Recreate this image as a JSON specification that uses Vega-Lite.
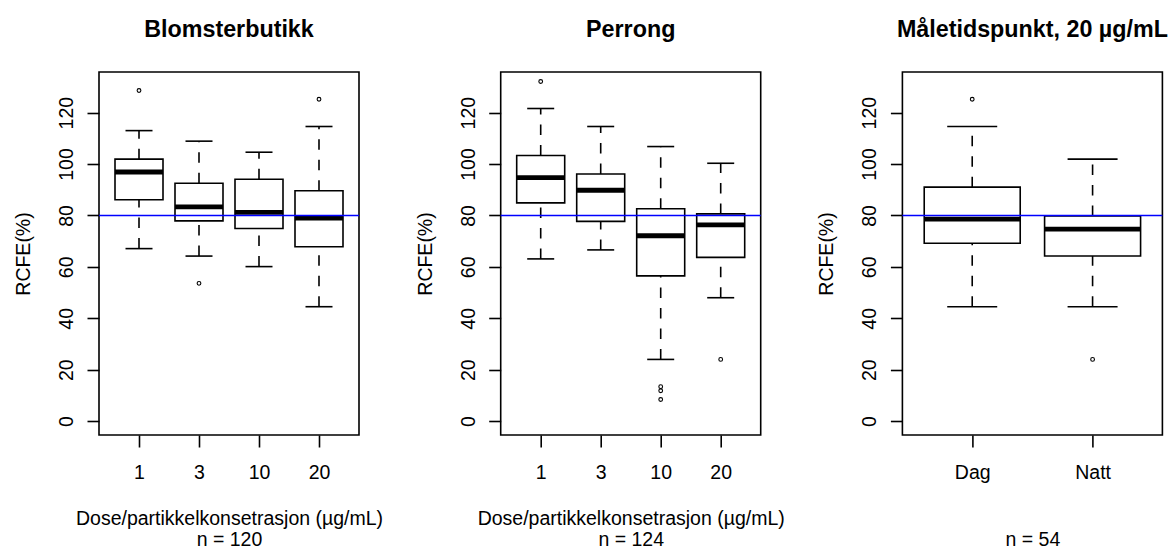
{
  "$schema": "https://vega.github.io/schema/vega-lite/v6.json",
  "background": "white",
  "padding": {"left": 12, "top": 17, "right": 4, "bottom": 0},
  "bounds": "flush",
  "spacing": 141.7,
  "datasets": {
    "box": [
      {"panel": "Blomsterbutikk", "group": "1", "lower": 67.1, "q1": 86.1, "median": 96.9, "q3": 101.9, "upper": 113.0},
      {"panel": "Blomsterbutikk", "group": "3", "lower": 64.2, "q1": 77.9, "median": 83.3, "q3": 92.5, "upper": 108.9},
      {"panel": "Blomsterbutikk", "group": "10", "lower": 60.1, "q1": 74.9, "median": 81.2, "q3": 94.1, "upper": 104.6},
      {"panel": "Blomsterbutikk", "group": "20", "lower": 44.5, "q1": 67.8, "median": 79.0, "q3": 89.6, "upper": 114.6},
      {"panel": "Perrong", "group": "1", "lower": 63.1, "q1": 84.9, "median": 94.7, "q3": 103.3, "upper": 121.6},
      {"panel": "Perrong", "group": "3", "lower": 66.6, "q1": 77.7, "median": 89.8, "q3": 96.1, "upper": 114.6},
      {"panel": "Perrong", "group": "10", "lower": 24.0, "q1": 56.5, "median": 72.1, "q3": 82.6, "upper": 106.8},
      {"panel": "Perrong", "group": "20", "lower": 48.0, "q1": 63.7, "median": 76.3, "q3": 80.6, "upper": 100.3},
      {"panel": "Tid", "group": "Dag", "lower": 44.5, "q1": 69.2, "median": 78.6, "q3": 91.0, "upper": 114.6},
      {"panel": "Tid", "group": "Natt", "lower": 44.5, "q1": 64.2, "median": 74.7, "q3": 79.8, "upper": 101.9}
    ],
    "out": [
      {"panel": "Blomsterbutikk", "group": "1", "value": 128.6},
      {"panel": "Blomsterbutikk", "group": "3", "value": 53.6},
      {"panel": "Blomsterbutikk", "group": "20", "value": 125.2},
      {"panel": "Perrong", "group": "1", "value": 132.1},
      {"panel": "Perrong", "group": "10", "value": 13.4},
      {"panel": "Perrong", "group": "10", "value": 11.8},
      {"panel": "Perrong", "group": "10", "value": 8.4},
      {"panel": "Perrong", "group": "20", "value": 24.0},
      {"panel": "Tid", "group": "Dag", "value": 125.2},
      {"panel": "Tid", "group": "Natt", "value": 24.0}
    ]
  },
  "hconcat": [
    {
      "width": 260, "height": 363,
      "title": "Blomsterbutikk",
      "layer": [
        {
          "data": {"name": "box"},
          "transform": [{"filter": "datum.panel === 'Blomsterbutikk'"}],
          "mark": {"type": "rule", "strokeDash": [10.5, 10], "strokeWidth": 1.6, "color": "black"},
          "encoding": {
            "x": {"field": "group", "type": "ordinal", "scale": {"type": "point", "domain": ["1", "3", "10", "20"], "padding": 0.6667}, "axis": {"title": ["Dose/partikkelkonsetrasjon (µg/mL)", "n = 120"]}},
            "y": {"field": "lower", "type": "quantitative", "scale": {"domain": [-5.4, 135.8], "nice": false, "zero": false}, "axis": {"title": "RCFE(%)", "values": [0, 20, 40, 60, 80, 100, 120]}},
            "y2": {"field": "q1"}
          }
        },
        {
          "data": {"name": "box"},
          "transform": [{"filter": "datum.panel === 'Blomsterbutikk'"}],
          "mark": {"type": "rule", "strokeDash": [10.5, 10], "strokeWidth": 1.6, "color": "black"},
          "encoding": {
            "x": {"field": "group", "type": "ordinal", "scale": {"type": "point", "domain": ["1", "3", "10", "20"], "padding": 0.6667}, "axis": {"title": ["Dose/partikkelkonsetrasjon (µg/mL)", "n = 120"]}},
            "y": {"field": "q3", "type": "quantitative", "scale": {"domain": [-5.4, 135.8], "nice": false, "zero": false}, "axis": {"title": "RCFE(%)", "values": [0, 20, 40, 60, 80, 100, 120]}},
            "y2": {"field": "upper"}
          }
        },
        {
          "data": {"name": "box"},
          "transform": [{"filter": "datum.panel === 'Blomsterbutikk'"}],
          "mark": {"type": "tick", "size": 27, "thickness": 1.6, "color": "black", "opacity": 1},
          "encoding": {
            "x": {"field": "group", "type": "ordinal", "scale": {"type": "point", "domain": ["1", "3", "10", "20"], "padding": 0.6667}, "axis": {"title": ["Dose/partikkelkonsetrasjon (µg/mL)", "n = 120"]}},
            "y": {"field": "lower", "type": "quantitative", "scale": {"domain": [-5.4, 135.8], "nice": false, "zero": false}, "axis": {"title": "RCFE(%)", "values": [0, 20, 40, 60, 80, 100, 120]}}
          }
        },
        {
          "data": {"name": "box"},
          "transform": [{"filter": "datum.panel === 'Blomsterbutikk'"}],
          "mark": {"type": "tick", "size": 27, "thickness": 1.6, "color": "black", "opacity": 1},
          "encoding": {
            "x": {"field": "group", "type": "ordinal", "scale": {"type": "point", "domain": ["1", "3", "10", "20"], "padding": 0.6667}, "axis": {"title": ["Dose/partikkelkonsetrasjon (µg/mL)", "n = 120"]}},
            "y": {"field": "upper", "type": "quantitative", "scale": {"domain": [-5.4, 135.8], "nice": false, "zero": false}, "axis": {"title": "RCFE(%)", "values": [0, 20, 40, 60, 80, 100, 120]}}
          }
        },
        {
          "data": {"name": "box"},
          "transform": [{"filter": "datum.panel === 'Blomsterbutikk'"}],
          "mark": {"type": "bar", "size": 48, "fill": "white", "stroke": "black", "strokeWidth": 1.6},
          "encoding": {
            "x": {"field": "group", "type": "ordinal", "scale": {"type": "point", "domain": ["1", "3", "10", "20"], "padding": 0.6667}, "axis": {"title": ["Dose/partikkelkonsetrasjon (µg/mL)", "n = 120"]}},
            "y": {"field": "q1", "type": "quantitative", "scale": {"domain": [-5.4, 135.8], "nice": false, "zero": false}, "axis": {"title": "RCFE(%)", "values": [0, 20, 40, 60, 80, 100, 120]}},
            "y2": {"field": "q3"}
          }
        },
        {
          "data": {"name": "box"},
          "transform": [{"filter": "datum.panel === 'Blomsterbutikk'"}],
          "mark": {"type": "tick", "size": 48, "thickness": 4.8, "color": "black", "opacity": 1},
          "encoding": {
            "x": {"field": "group", "type": "ordinal", "scale": {"type": "point", "domain": ["1", "3", "10", "20"], "padding": 0.6667}, "axis": {"title": ["Dose/partikkelkonsetrasjon (µg/mL)", "n = 120"]}},
            "y": {"field": "median", "type": "quantitative", "scale": {"domain": [-5.4, 135.8], "nice": false, "zero": false}, "axis": {"title": "RCFE(%)", "values": [0, 20, 40, 60, 80, 100, 120]}}
          }
        },
        {
          "data": {"name": "out"},
          "transform": [{"filter": "datum.panel === 'Blomsterbutikk'"}],
          "mark": {"type": "point", "shape": "circle", "filled": false, "size": 14, "stroke": "black", "strokeWidth": 1.1, "opacity": 1},
          "encoding": {
            "x": {"field": "group", "type": "ordinal", "scale": {"type": "point", "domain": ["1", "3", "10", "20"], "padding": 0.6667}, "axis": {"title": ["Dose/partikkelkonsetrasjon (µg/mL)", "n = 120"]}},
            "y": {"field": "value", "type": "quantitative", "scale": {"domain": [-5.4, 135.8], "nice": false, "zero": false}, "axis": {"title": "RCFE(%)", "values": [0, 20, 40, 60, 80, 100, 120]}}
          }
        },
        {
          "data": {"values": [{}]},
          "mark": {"type": "rule", "color": "#0000ff", "strokeWidth": 1.6},
          "encoding": {
            "y": {"datum": 80, "type": "quantitative", "scale": {"domain": [-5.4, 135.8], "nice": false, "zero": false}, "axis": {"title": "RCFE(%)", "values": [0, 20, 40, 60, 80, 100, 120]}}
          }
        }
      ]
    },
    {
      "width": 260, "height": 363,
      "title": "Perrong",
      "layer": [
        {
          "data": {"name": "box"},
          "transform": [{"filter": "datum.panel === 'Perrong'"}],
          "mark": {"type": "rule", "strokeDash": [10.5, 10], "strokeWidth": 1.6, "color": "black"},
          "encoding": {
            "x": {"field": "group", "type": "ordinal", "scale": {"type": "point", "domain": ["1", "3", "10", "20"], "padding": 0.6667}, "axis": {"title": ["Dose/partikkelkonsetrasjon (µg/mL)", "n = 124"]}},
            "y": {"field": "lower", "type": "quantitative", "scale": {"domain": [-5.4, 135.8], "nice": false, "zero": false}, "axis": {"title": "RCFE(%)", "values": [0, 20, 40, 60, 80, 100, 120]}},
            "y2": {"field": "q1"}
          }
        },
        {
          "data": {"name": "box"},
          "transform": [{"filter": "datum.panel === 'Perrong'"}],
          "mark": {"type": "rule", "strokeDash": [10.5, 10], "strokeWidth": 1.6, "color": "black"},
          "encoding": {
            "x": {"field": "group", "type": "ordinal", "scale": {"type": "point", "domain": ["1", "3", "10", "20"], "padding": 0.6667}, "axis": {"title": ["Dose/partikkelkonsetrasjon (µg/mL)", "n = 124"]}},
            "y": {"field": "q3", "type": "quantitative", "scale": {"domain": [-5.4, 135.8], "nice": false, "zero": false}, "axis": {"title": "RCFE(%)", "values": [0, 20, 40, 60, 80, 100, 120]}},
            "y2": {"field": "upper"}
          }
        },
        {
          "data": {"name": "box"},
          "transform": [{"filter": "datum.panel === 'Perrong'"}],
          "mark": {"type": "tick", "size": 27, "thickness": 1.6, "color": "black", "opacity": 1},
          "encoding": {
            "x": {"field": "group", "type": "ordinal", "scale": {"type": "point", "domain": ["1", "3", "10", "20"], "padding": 0.6667}, "axis": {"title": ["Dose/partikkelkonsetrasjon (µg/mL)", "n = 124"]}},
            "y": {"field": "lower", "type": "quantitative", "scale": {"domain": [-5.4, 135.8], "nice": false, "zero": false}, "axis": {"title": "RCFE(%)", "values": [0, 20, 40, 60, 80, 100, 120]}}
          }
        },
        {
          "data": {"name": "box"},
          "transform": [{"filter": "datum.panel === 'Perrong'"}],
          "mark": {"type": "tick", "size": 27, "thickness": 1.6, "color": "black", "opacity": 1},
          "encoding": {
            "x": {"field": "group", "type": "ordinal", "scale": {"type": "point", "domain": ["1", "3", "10", "20"], "padding": 0.6667}, "axis": {"title": ["Dose/partikkelkonsetrasjon (µg/mL)", "n = 124"]}},
            "y": {"field": "upper", "type": "quantitative", "scale": {"domain": [-5.4, 135.8], "nice": false, "zero": false}, "axis": {"title": "RCFE(%)", "values": [0, 20, 40, 60, 80, 100, 120]}}
          }
        },
        {
          "data": {"name": "box"},
          "transform": [{"filter": "datum.panel === 'Perrong'"}],
          "mark": {"type": "bar", "size": 48, "fill": "white", "stroke": "black", "strokeWidth": 1.6},
          "encoding": {
            "x": {"field": "group", "type": "ordinal", "scale": {"type": "point", "domain": ["1", "3", "10", "20"], "padding": 0.6667}, "axis": {"title": ["Dose/partikkelkonsetrasjon (µg/mL)", "n = 124"]}},
            "y": {"field": "q1", "type": "quantitative", "scale": {"domain": [-5.4, 135.8], "nice": false, "zero": false}, "axis": {"title": "RCFE(%)", "values": [0, 20, 40, 60, 80, 100, 120]}},
            "y2": {"field": "q3"}
          }
        },
        {
          "data": {"name": "box"},
          "transform": [{"filter": "datum.panel === 'Perrong'"}],
          "mark": {"type": "tick", "size": 48, "thickness": 4.8, "color": "black", "opacity": 1},
          "encoding": {
            "x": {"field": "group", "type": "ordinal", "scale": {"type": "point", "domain": ["1", "3", "10", "20"], "padding": 0.6667}, "axis": {"title": ["Dose/partikkelkonsetrasjon (µg/mL)", "n = 124"]}},
            "y": {"field": "median", "type": "quantitative", "scale": {"domain": [-5.4, 135.8], "nice": false, "zero": false}, "axis": {"title": "RCFE(%)", "values": [0, 20, 40, 60, 80, 100, 120]}}
          }
        },
        {
          "data": {"name": "out"},
          "transform": [{"filter": "datum.panel === 'Perrong'"}],
          "mark": {"type": "point", "shape": "circle", "filled": false, "size": 14, "stroke": "black", "strokeWidth": 1.1, "opacity": 1},
          "encoding": {
            "x": {"field": "group", "type": "ordinal", "scale": {"type": "point", "domain": ["1", "3", "10", "20"], "padding": 0.6667}, "axis": {"title": ["Dose/partikkelkonsetrasjon (µg/mL)", "n = 124"]}},
            "y": {"field": "value", "type": "quantitative", "scale": {"domain": [-5.4, 135.8], "nice": false, "zero": false}, "axis": {"title": "RCFE(%)", "values": [0, 20, 40, 60, 80, 100, 120]}}
          }
        },
        {
          "data": {"values": [{}]},
          "mark": {"type": "rule", "color": "#0000ff", "strokeWidth": 1.6},
          "encoding": {
            "y": {"datum": 80, "type": "quantitative", "scale": {"domain": [-5.4, 135.8], "nice": false, "zero": false}, "axis": {"title": "RCFE(%)", "values": [0, 20, 40, 60, 80, 100, 120]}}
          }
        }
      ]
    },
    {
      "width": 260, "height": 363,
      "title": "Måletidspunkt, 20 µg/mL",
      "layer": [
        {
          "data": {"name": "box"},
          "transform": [{"filter": "datum.panel === 'Tid'"}],
          "mark": {"type": "rule", "strokeDash": [10.5, 10], "strokeWidth": 1.6, "color": "black"},
          "encoding": {
            "x": {"field": "group", "type": "ordinal", "scale": {"type": "point", "domain": ["Dag", "Natt"], "padding": 0.58}, "axis": {"title": "n = 54", "titleY": 110}},
            "y": {"field": "lower", "type": "quantitative", "scale": {"domain": [-5.4, 135.8], "nice": false, "zero": false}, "axis": {"title": "RCFE(%)", "values": [0, 20, 40, 60, 80, 100, 120]}},
            "y2": {"field": "q1"}
          }
        },
        {
          "data": {"name": "box"},
          "transform": [{"filter": "datum.panel === 'Tid'"}],
          "mark": {"type": "rule", "strokeDash": [10.5, 10], "strokeWidth": 1.6, "color": "black"},
          "encoding": {
            "x": {"field": "group", "type": "ordinal", "scale": {"type": "point", "domain": ["Dag", "Natt"], "padding": 0.58}, "axis": {"title": "n = 54", "titleY": 110}},
            "y": {"field": "q3", "type": "quantitative", "scale": {"domain": [-5.4, 135.8], "nice": false, "zero": false}, "axis": {"title": "RCFE(%)", "values": [0, 20, 40, 60, 80, 100, 120]}},
            "y2": {"field": "upper"}
          }
        },
        {
          "data": {"name": "box"},
          "transform": [{"filter": "datum.panel === 'Tid'"}],
          "mark": {"type": "tick", "size": 50, "thickness": 1.6, "color": "black", "opacity": 1},
          "encoding": {
            "x": {"field": "group", "type": "ordinal", "scale": {"type": "point", "domain": ["Dag", "Natt"], "padding": 0.58}, "axis": {"title": "n = 54", "titleY": 110}},
            "y": {"field": "lower", "type": "quantitative", "scale": {"domain": [-5.4, 135.8], "nice": false, "zero": false}, "axis": {"title": "RCFE(%)", "values": [0, 20, 40, 60, 80, 100, 120]}}
          }
        },
        {
          "data": {"name": "box"},
          "transform": [{"filter": "datum.panel === 'Tid'"}],
          "mark": {"type": "tick", "size": 50, "thickness": 1.6, "color": "black", "opacity": 1},
          "encoding": {
            "x": {"field": "group", "type": "ordinal", "scale": {"type": "point", "domain": ["Dag", "Natt"], "padding": 0.58}, "axis": {"title": "n = 54", "titleY": 110}},
            "y": {"field": "upper", "type": "quantitative", "scale": {"domain": [-5.4, 135.8], "nice": false, "zero": false}, "axis": {"title": "RCFE(%)", "values": [0, 20, 40, 60, 80, 100, 120]}}
          }
        },
        {
          "data": {"name": "box"},
          "transform": [{"filter": "datum.panel === 'Tid'"}],
          "mark": {"type": "bar", "size": 96, "fill": "white", "stroke": "black", "strokeWidth": 1.6},
          "encoding": {
            "x": {"field": "group", "type": "ordinal", "scale": {"type": "point", "domain": ["Dag", "Natt"], "padding": 0.58}, "axis": {"title": "n = 54", "titleY": 110}},
            "y": {"field": "q1", "type": "quantitative", "scale": {"domain": [-5.4, 135.8], "nice": false, "zero": false}, "axis": {"title": "RCFE(%)", "values": [0, 20, 40, 60, 80, 100, 120]}},
            "y2": {"field": "q3"}
          }
        },
        {
          "data": {"name": "box"},
          "transform": [{"filter": "datum.panel === 'Tid'"}],
          "mark": {"type": "tick", "size": 96, "thickness": 4.8, "color": "black", "opacity": 1},
          "encoding": {
            "x": {"field": "group", "type": "ordinal", "scale": {"type": "point", "domain": ["Dag", "Natt"], "padding": 0.58}, "axis": {"title": "n = 54", "titleY": 110}},
            "y": {"field": "median", "type": "quantitative", "scale": {"domain": [-5.4, 135.8], "nice": false, "zero": false}, "axis": {"title": "RCFE(%)", "values": [0, 20, 40, 60, 80, 100, 120]}}
          }
        },
        {
          "data": {"name": "out"},
          "transform": [{"filter": "datum.panel === 'Tid'"}],
          "mark": {"type": "point", "shape": "circle", "filled": false, "size": 14, "stroke": "black", "strokeWidth": 1.1, "opacity": 1},
          "encoding": {
            "x": {"field": "group", "type": "ordinal", "scale": {"type": "point", "domain": ["Dag", "Natt"], "padding": 0.58}, "axis": {"title": "n = 54", "titleY": 110}},
            "y": {"field": "value", "type": "quantitative", "scale": {"domain": [-5.4, 135.8], "nice": false, "zero": false}, "axis": {"title": "RCFE(%)", "values": [0, 20, 40, 60, 80, 100, 120]}}
          }
        },
        {
          "data": {"values": [{}]},
          "mark": {"type": "rule", "color": "#0000ff", "strokeWidth": 1.6},
          "encoding": {
            "y": {"datum": 80, "type": "quantitative", "scale": {"domain": [-5.4, 135.8], "nice": false, "zero": false}, "axis": {"title": "RCFE(%)", "values": [0, 20, 40, 60, 80, 100, 120]}}
          }
        }
      ]
    }
  ],
  "config": {
    "font": "Liberation Sans",
    "view": {"stroke": "black", "strokeWidth": 1.6},
    "axis": {
      "domain": false,
      "grid": false,
      "tickColor": "black",
      "tickWidth": 1.6,
      "tickSize": 12,
      "labelColor": "black",
      "labelFont": "Liberation Sans",
      "labelFontSize": 19.5,
      "labelFlush": false,
      "labelOverlap": false,
      "titleFont": "Liberation Sans",
      "titleFontSize": 19.5,
      "titleFontWeight": "normal",
      "titleColor": "black"
    },
    "axisY": {
      "labelAngle": 270,
      "labelAlign": "center",
      "labelBaseline": "alphabetic",
      "labelPadding": 14.5,
      "titleAngle": 270,
      "titleX": -69.7,
      "titleY": 181.5,
      "titleAlign": "center",
      "titleBaseline": "alphabetic"
    },
    "axisX": {
      "labelAngle": 0,
      "labelAlign": "center",
      "labelBaseline": "alphabetic",
      "labelPadding": 31.3,
      "titleBaseline": "alphabetic",
      "titleAlign": "center",
      "titleX": 130,
      "titleY": 89.5,
      "titleLineHeight": 20.5
    },
    "title": {
      "font": "Liberation Sans",
      "fontSize": 23.3,
      "fontWeight": "bold",
      "color": "black",
      "anchor": "middle",
      "frame": "group",
      "baseline": "alphabetic",
      "offset": 29.3
    }
  }
}
